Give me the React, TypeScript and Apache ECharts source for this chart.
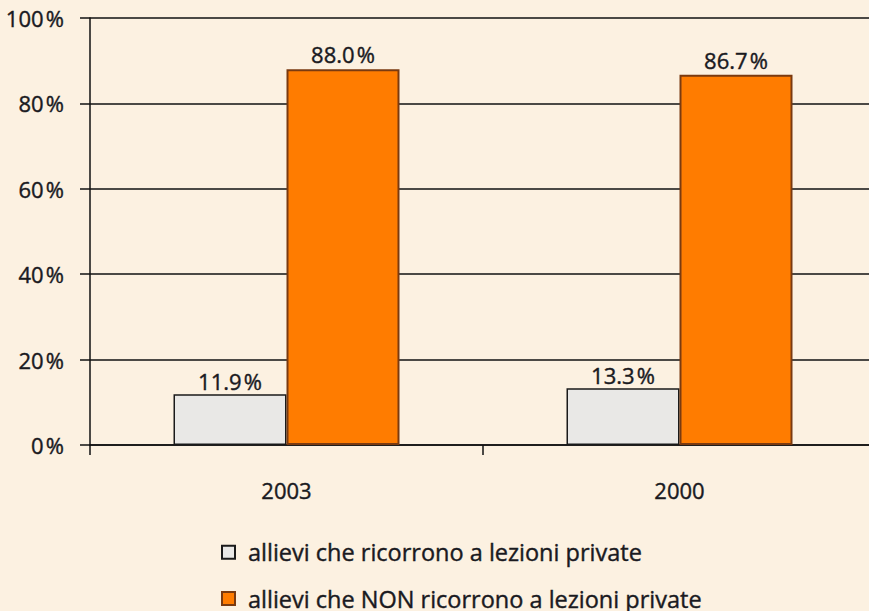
import React, { useEffect, useRef } from "react";
import * as echarts from "echarts";

const categories = ["2003", "2000"];
const seriesNames = [
  "allievi che ricorrono a lezioni private",
  "allievi che NON ricorrono a lezioni private",
];
const withLessons = [11.9, 13.3];
const withoutLessons = [88.0, 86.7];

export default function App() {
  const ref = useRef<HTMLDivElement>(null);
  useEffect(() => {
    if (!ref.current) return;
    const chart = echarts.init(ref.current, undefined, { renderer: "svg" });
    const font = "'Open Sans', 'Noto Sans', sans-serif";
    const txt = "#1a1a1f";
    const thick = { textBorderColor: txt, textBorderWidth: 0.4 };
    const pct = (p: any) => p.value.toFixed(1) + "\u200A%";
    chart.setOption({
      animation: false,
      backgroundColor: "#fcf1e1",
      textStyle: { fontFamily: font },
      grid: { left: 90, top: 18, bottom: 166, width: 786, outerBoundsMode: "none", containLabel: false },
      legend: {
        orient: "vertical",
        left: 216,
        top: 535,
        height: 90,
        itemWidth: 13,
        itemHeight: 13,
        itemGap: 22,
        icon: "rect",
        textStyle: { fontSize: 23.5, lineHeight: 24, color: txt, fontFamily: font, padding: [0, 0, 0, 8], ...thick },
        data: seriesNames,
      },
      xAxis: {
        type: "category",
        data: categories,
        axisLine: { lineStyle: { color: "#111", width: 1.5 } },
        axisTick: { show: true, length: 10, lineStyle: { color: "#111", width: 1.5 } },
        axisLabel: { fontSize: 22, color: txt, margin: 34, fontFamily: font, ...thick },
      },
      yAxis: {
        type: "value",
        min: 0,
        max: 100,
        interval: 20,
        axisLine: { show: true, lineStyle: { color: "#111", width: 1.5 } },
        axisTick: { show: true, length: 10, lineStyle: { color: "#111", width: 1.5 } },
        splitLine: { lineStyle: { color: "#111", width: 1.5 } },
        axisLabel: {
          formatter: "{value}\u200A%",
          fontSize: 22,
          color: txt,
          margin: 26,
          fontFamily: font,
          ...thick,
        },
      },
      series: [
        {
          name: seriesNames[0],
          type: "bar",
          data: withLessons,
          barWidth: 113,
          barGap: "0%",
          itemStyle: { color: "#e9e8e6", borderColor: "#1a1a1a", borderWidth: 1.5 },
          label: {
            show: true,
            position: "top",
            distance: 2,
            formatter: pct,
            fontSize: 22,
            color: txt,
            fontFamily: font,
            ...thick,
          },
        },
        {
          name: seriesNames[1],
          type: "bar",
          data: withoutLessons,
          barWidth: 113,
          barGap: "0%",
          itemStyle: { color: "#ff7c00", borderColor: "#7a3a10", borderWidth: 2 },
          label: {
            show: true,
            position: "top",
            distance: 4,
            formatter: pct,
            fontSize: 22,
            color: txt,
            fontFamily: font,
            ...thick,
          },
        },
      ],
    });
    return () => chart.dispose();
  }, []);
  return <div ref={ref} style={{ width: 869, height: 611, position: "absolute", left: 0, top: 0 }} />;
}
